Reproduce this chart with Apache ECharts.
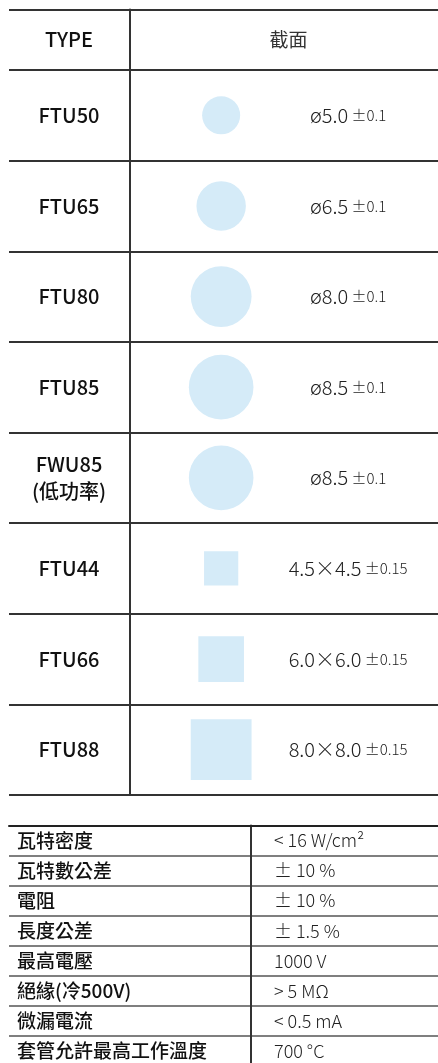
<!DOCTYPE html>
<html>
<head>
<meta charset="utf-8">
<script src="https://cdn.jsdelivr.net/npm/echarts@6/dist/echarts.min.js"></script>
<style>
  html, body { margin: 0; padding: 0; background: #fff; }
  #chart { width: 438px; height: 1063px; }
</style>
</head>
<body>
<div id="chart"></div>
<script>
// cross-section table
const headerType = 'TYPE';
const headerSection = '截面';
const types = ['FTU50', 'FTU65', 'FTU80', 'FTU85', 'FWU85\n(低功率)', 'FTU44', 'FTU66', 'FTU88'];
const shapes = ['circle', 'circle', 'circle', 'circle', 'circle', 'square', 'square', 'square'];
const sizes = [5.0, 6.5, 8.0, 8.5, 8.5, 4.5, 6.0, 8.0]; // mm
const tolerances = ['0.1', '0.1', '0.1', '0.1', '0.1', '0.15', '0.15', '0.15'];

// spec table
const specNames = ['瓦特密度', '瓦特數公差', '電阻', '長度公差', '最高電壓', '絕緣(冷500V)', '微漏電流', '套管允許最高工作溫度'];
const specValues = ['< 16 W/cm²', '± 10 %', '± 10 %', '± 1.5 %', '1000 V', '> 5 MΩ', '< 0.5 mA', '700 °C'];

const FONT = '"Noto Sans CJK TC", "Noto Sans CJK SC", sans-serif';
const LINE = '#333';
const FILL = '#d5ebf8';
const MM_MAX = 57.6;   // x axis in mm across the table width
const SHAPE_X = 27.9;  // mm, shape column
const TEXT_X = 44.6;   // mm, dimension text column

const chart = echarts.init(document.getElementById('chart'));

function sizeLabel(i) {
  const s = sizes[i].toFixed(1);
  return shapes[i] === 'circle' ? 'ø' + s : s + '×' + s;
}

const hiddenX = (grid) => ({
  type: 'value', gridIndex: grid, min: 0, max: MM_MAX, show: false
});

chart.setOption({
  animation: false,
  grid: [
    { left: 9, right: -9, top: 9.5, height: 60.5, outerBoundsMode: 'none' },
    { left: 9, right: -9, top: 70, height: 725, outerBoundsMode: 'none' },
    { left: 9, right: -9, top: 825.5, height: 240.4, outerBoundsMode: 'none' }
  ],
  xAxis: [
    hiddenX(0),
    hiddenX(1),
    {
      type: 'value', gridIndex: 2, min: 0, max: MM_MAX, position: 'top',
      axisLine: { show: true, lineStyle: { color: '#222', width: 2 } },
      axisTick: { show: false }, axisLabel: { show: false }, splitLine: { show: false }
    }
  ],
  yAxis: [
    {
      type: 'category', gridIndex: 0, position: 'left', offset: -121,
      data: [headerType],
      axisLine: { show: true, lineStyle: { color: LINE, width: 2 } },
      axisTick: { show: false },
      axisLabel: { margin: 61, align: 'center', fontSize: 20, fontWeight: 500, color: '#111', fontFamily: FONT },
      splitLine: { show: true, lineStyle: { color: LINE, width: 2 } }
    },
    {
      type: 'category', gridIndex: 0, position: 'left', offset: -279.5,
      data: [headerSection],
      axisLine: { show: false }, axisTick: { show: false },
      axisLabel: { margin: 0, align: 'center', fontSize: 19, fontWeight: 400, color: '#333', fontFamily: FONT },
      splitLine: { show: false }
    },
    {
      type: 'category', gridIndex: 1, position: 'left', offset: -121, inverse: true,
      data: types,
      axisLine: { show: true, lineStyle: { color: LINE, width: 2 } },
      axisTick: { show: false },
      axisLabel: { interval: 0, margin: 61, align: 'center', fontSize: 20, lineHeight: 27, fontWeight: 500, color: '#111', fontFamily: FONT },
      splitLine: { show: true, lineStyle: { color: LINE, width: 2 } }
    },
    {
      type: 'category', gridIndex: 2, position: 'left', inverse: true,
      data: specNames,
      axisLine: { show: false }, axisTick: { show: false },
      axisLabel: { interval: 0, inside: true, margin: 8, align: 'left', fontSize: 19, fontWeight: 500, color: '#111', fontFamily: FONT },
      splitLine: { show: true, lineStyle: { color: '#555', width: 1.5 } }
    },
    {
      type: 'category', gridIndex: 2, position: 'left', offset: -241.5, inverse: true,
      data: specValues,
      axisLine: { show: true, lineStyle: { color: LINE, width: 2 } },
      axisTick: { show: false },
      axisLabel: { interval: 0, inside: true, margin: 23.5, align: 'left', fontSize: 18, fontWeight: 300, color: '#222', fontFamily: FONT },
      splitLine: { show: false }
    }
  ],
  series: [
    {
      type: 'custom',
      coordinateSystem: 'cartesian2d',
      xAxisIndex: 1,
      yAxisIndex: 2,
      silent: true,
      data: sizes.map((s, i) => [SHAPE_X, i, s]),
      renderItem(params, api) {
        const i = params.dataIndex;
        const c = api.coord([SHAPE_X, api.value(1)]);
        const t = api.coord([TEXT_X, api.value(1)]);
        const d = api.size([api.value(2), 0])[0];
        const mark = shapes[i] === 'circle'
          ? { type: 'circle', shape: { cx: c[0], cy: c[1], r: d / 2 }, style: { fill: FILL } }
          : { type: 'rect', shape: { x: c[0] - d / 2, y: c[1] - d / 2, width: d, height: d }, style: { fill: FILL } };
        return {
          type: 'group',
          children: [
            mark,
            {
              type: 'text', x: t[0], y: t[1],
              style: {
                text: '{main|' + sizeLabel(i) + '} {tol|±' + tolerances[i] + '}',
                align: 'center', verticalAlign: 'middle',
                rich: {
                  main: { fontSize: 20, fontWeight: 300, fontFamily: FONT, fill: '#222' },
                  tol: { fontSize: 15, fontWeight: 300, fontFamily: FONT, fill: '#222' }
                }
              }
            }
          ]
        };
      }
    }
  ]
});
</script>
</body>
</html>
